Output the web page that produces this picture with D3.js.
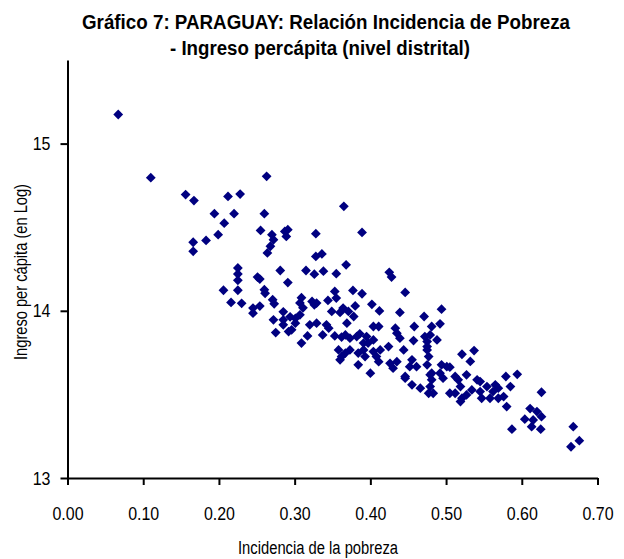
<!DOCTYPE html>
<head>
  <meta charset="utf-8">
  <script src="https://d3js.org/d3.v7.min.js"></script>
  <style>
    body { margin:0; background:#fff; }
    text { font-family: "Liberation Sans", Arial, sans-serif; fill:#000; }
  </style>
</head>
<body>
<script>
  // incidencia de la pobreza (x) and log ingreso per capita (y), one entry per distrito
  var pobreza = [
    0.067, 0.110, 0.156, 0.167, 0.212, 0.228, 0.194, 0.220, 0.207, 0.199,
    0.183, 0.166, 0.166, 0.225, 0.225, 0.225, 0.225, 0.206, 0.216, 0.230,
    0.245, 0.245, 0.254, 0.251, 0.254, 0.255, 0.263, 0.260, 0.270, 0.272,
    0.268, 0.264, 0.287, 0.291, 0.289, 0.328, 0.328, 0.336, 0.365, 0.389,
    0.368, 0.355, 0.425, 0.428, 0.353, 0.355, 0.377, 0.389, 0.446, 0.281,
    0.315, 0.326, 0.338, 0.291, 0.260, 0.261, 0.271, 0.273, 0.309, 0.307,
    0.323, 0.326, 0.329, 0.344, 0.285, 0.285, 0.294, 0.301, 0.307, 0.311,
    0.272, 0.275, 0.285, 0.292, 0.296, 0.301, 0.309, 0.317, 0.320, 0.329,
    0.342, 0.345, 0.337, 0.353, 0.362, 0.367, 0.358, 0.362, 0.367, 0.360,
    0.369, 0.382, 0.384, 0.349, 0.360, 0.364, 0.371, 0.378, 0.380, 0.402,
    0.412, 0.439, 0.397, 0.404, 0.384, 0.373, 0.373, 0.471, 0.494, 0.492,
    0.481, 0.404, 0.411, 0.433, 0.435, 0.439, 0.458, 0.386, 0.395, 0.391,
    0.457, 0.472, 0.479, 0.475, 0.488, 0.391, 0.393, 0.404, 0.413, 0.408,
    0.411, 0.424, 0.444, 0.426, 0.435, 0.430, 0.455, 0.461, 0.452, 0.400,
    0.446, 0.475, 0.481, 0.492, 0.501, 0.475, 0.475, 0.477, 0.521, 0.537,
    0.532, 0.494, 0.505, 0.446, 0.455, 0.466, 0.479, 0.481, 0.479, 0.483,
    0.477, 0.496, 0.505, 0.512, 0.516, 0.527, 0.519, 0.512, 0.521, 0.519,
    0.527, 0.541, 0.545, 0.534, 0.554, 0.558, 0.562, 0.565, 0.569, 0.576,
    0.580, 0.579, 0.585, 0.594, 0.611, 0.620, 0.626, 0.604, 0.615, 0.613,
    0.625, 0.626, 0.587, 0.668, 0.676, 0.665, 0.545, 0.547, 0.569
  ]
  var ingresoLog = [
    15.174, 14.796, 14.695, 14.659, 14.684, 14.698, 14.581, 14.581, 14.524, 14.455,
    14.421, 14.410, 14.356, 14.256, 14.220, 14.182, 14.123, 14.123, 14.050, 14.045,
    14.016, 13.986, 14.028, 14.202, 14.190, 14.481, 14.804, 14.581, 14.455, 14.425,
    14.386, 14.346, 14.475, 14.485, 14.445, 14.461, 14.325, 14.340, 14.625, 14.469,
    14.275, 14.222, 14.230, 14.202, 14.116, 14.076, 14.122, 14.102, 14.110, 14.241,
    14.241, 14.219, 14.237, 14.169, 14.126, 14.105, 14.066, 14.042, 14.078, 14.047,
    14.056, 14.036, 14.046, 14.062, 13.994, 13.946, 13.964, 13.955, 13.976, 14.018,
    13.946, 13.870, 13.916, 13.876, 13.886, 13.926, 13.807, 13.850, 13.916, 13.926,
    13.916, 13.896, 13.856, 13.850, 13.843, 13.856, 13.766, 13.726, 13.747, 13.707,
    13.926, 13.846, 13.677, 13.996, 13.990, 14.016, 13.996, 13.966, 14.029, 14.039,
    13.999, 13.990, 13.807, 13.826, 13.747, 13.766, 13.836, 13.966, 14.010, 13.922,
    13.906, 13.906, 13.906, 13.896, 13.866, 13.836, 13.906, 13.862, 13.846, 13.807,
    13.822, 13.846, 13.856, 13.816, 13.826, 13.766, 13.726, 13.756, 13.766, 13.726,
    13.696, 13.786, 13.766, 13.686, 13.696, 13.657, 13.707, 13.666, 13.666, 13.627,
    13.607, 13.677, 13.627, 13.627, 13.666, 13.786, 13.766, 13.726, 13.740, 13.762,
    13.697, 13.677, 13.663, 13.597, 13.557, 13.537, 13.617, 13.587, 13.547, 13.507,
    13.507, 13.597, 13.507, 13.607, 13.587, 13.617, 13.547, 13.507, 13.477, 13.457,
    13.497, 13.587, 13.517, 13.527, 13.547, 13.477, 13.517, 13.557, 13.537, 13.487,
    13.427, 13.607, 13.547, 13.620, 13.415, 13.397, 13.367, 13.352, 13.347, 13.307,
    13.292, 13.513, 13.292, 13.307, 13.223, 13.187, 13.577, 13.477, 13.477
  ]
  var xTicks = [0, 0.1, 0.2, 0.3, 0.4, 0.5, 0.6, 0.7]
  var yTicks = [13, 14, 15]

  var svg = d3.select("body")
    .append("svg")
    .attr("width", 624)
    .attr("height", 559)

  var x = d3.scaleLinear()
    .domain([0, 0.7])
    .range([67.5, 597.5])

  var y = d3.scaleLinear()
    .domain([13, 15.5])
    .range([478, 60])

  var xAxis = d3.axisBottom(x)
    .tickValues(xTicks)
    .tickFormat(d3.format(".2f"))
    .tickSize(7)
    .tickSizeOuter(0)
    .tickPadding(22)

  var yAxis = d3.axisLeft(y)
    .tickValues(yTicks)
    .tickFormat(d3.format("d"))
    .tickSize(7)
    .tickSizeOuter(0)
    .tickPadding(10)

  svg.append("g")
    .attr("transform", "translate(0," + 478 + ")")
    .call(xAxis)
  svg.append("g")
    .attr("transform", "translate(" + 67.5 + ",0)")
    .call(yAxis)

  svg.selectAll(".domain, .tick line")
    .attr("stroke", "#000")
    .attr("stroke-width", 2)
  svg.selectAll(".tick text")
    .style("font-size", "19px")
    .style("font-family", "'Liberation Sans', Arial, sans-serif")

  // diamonds
  var pts = d3.zip(pobreza, ingresoLog)
  var diamond = d3.symbol().type(d3.symbolSquare).size(48)
  svg.append("g").selectAll("path")
    .data(pts).enter()
    .append("path")
    .attr("d", diamond)
    .attr("transform", function(d) { return "translate(" + x(d[0]) + "," + y(d[1]) + ") rotate(45)" })
    .attr("fill", "#000080")

  // titles, squeezed to the width of the original narrow face
  svg.append("text")
    .attr("x", 326).attr("y", 29)
    .attr("text-anchor", "middle")
    .attr("textLength", 488).attr("lengthAdjust", "spacingAndGlyphs")
    .style("font-size", "20px").style("font-weight", "bold")
    .text("Gráfico 7: PARAGUAY: Relación Incidencia de Pobreza")
  svg.append("text")
    .attr("x", 320).attr("y", 55)
    .attr("text-anchor", "middle")
    .attr("textLength", 300).attr("lengthAdjust", "spacingAndGlyphs")
    .style("font-size", "20px").style("font-weight", "bold")
    .text("- Ingreso percápita (nivel distrital)")

  svg.append("text")
    .attr("x", 318).attr("y", 554)
    .attr("text-anchor", "middle")
    .attr("textLength", 160).attr("lengthAdjust", "spacingAndGlyphs")
    .style("font-size", "18px")
    .text("Incidencia de la pobreza")

  svg.append("text")
    .attr("transform", "translate(27,272) rotate(-90)")
    .attr("text-anchor", "middle")
    .attr("textLength", 176).attr("lengthAdjust", "spacingAndGlyphs")
    .style("font-size", "18px")
    .text("Ingreso per cápita (en Log)")

  // narrow the tick labels like the original condensed face
  svg.selectAll(".tick text").each(function() {
    var w = this.getComputedTextLength()
    d3.select(this).attr("textLength", w * 0.84).attr("lengthAdjust", "spacingAndGlyphs")
  })
</script>
</body>
